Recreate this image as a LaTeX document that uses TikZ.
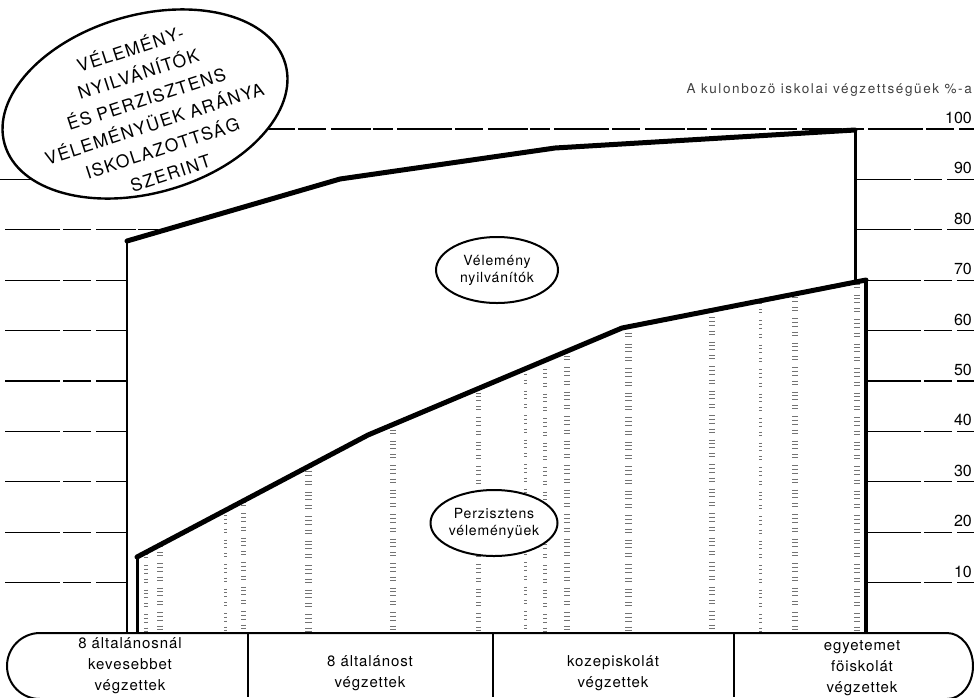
\documentclass[tikz,border=0pt]{standalone}
\usepackage{fontspec}
\setmainfont{TeX Gyre Heros}
\newfontfamily\titlefont[LetterSpace=8]{TeX Gyre Heros}
\newfontfamily\labfont[LetterSpace=6]{TeX Gyre Heros}
\newfontfamily\unitfont[LetterSpace=12]{TeX Gyre Heros}
\usetikzlibrary{shapes.geometric}
\begin{document}
\begin{tikzpicture}[x=1pt,y=-1pt,
  gridline/.style={line width=1.1pt, dash pattern=on 55pt off 3pt on 28pt off 5pt on 40pt off 2pt on 20pt off 4pt},
  bigline/.style={line width=5pt, line join=round, line cap=round},
  edge/.style={line width=2.6pt},
  stip/.style={draw=black!55, dash pattern=on 1pt off 3pt on 1.2pt off 5pt on 0.8pt off 2pt on 1pt off 7pt on 1pt off 2.5pt},
  oval/.style={draw, ellipse, line width=2pt, fill=white, inner sep=0pt},
  axlab/.style={anchor=south east, font=\fontsize{16}{16}\selectfont, inner sep=0pt},
  barlab/.style={align=center, font=\labfont\fontsize{15}{21}\selectfont, inner sep=0pt},
  ovallab/.style={align=center, font=\labfont\fontsize{14}{17}\selectfont, inner sep=0pt}]
\useasboundingbox (0,0) rectangle (974,697);

% key points
\coordinate (u0) at (127,241);
\coordinate (u1) at (340,179);
\coordinate (u2) at (555,148);
\coordinate (u3) at (855,130);
\coordinate (l0) at (137,557);
\coordinate (l1) at (368,435);
\coordinate (l2) at (622,328);
\coordinate (l3) at (866,280);
\coordinate (ur) at (855,280);
\coordinate (b0) at (127,633);
\coordinate (b1) at (137,633);
\coordinate (b3) at (866,633);

% stipple texture in the lower region
\begin{scope}
\clip (l0) -- (l1) -- (l2) -- (l3) -- (b3) -- (b1) -- cycle;
\foreach \x/\w/\s in {146/4/0,160/6/2,225/3/1,243/5/3,308/7/0,393/6/2,478/5/1,525/3/3,545/4/0,567/6/2,628/7/1,712/6/3,760/3/0,795/6/2,857/6/1}
  \draw[stip, line width=\w pt, dash phase=\s pt] (\x,250) -- (\x,633);
\end{scope}

% grid lines, left side
\foreach \v in {10,20,...,70}
  \draw[gridline] (5,{633-5.04*\v}) -- (127,{633-5.04*\v});
\draw[gridline] (5,229.8) -- (165,229.8);
\draw[gridline] (0,179.4) -- (80,179.4);
% top line
\draw[gridline] (240,129) -- (974,129);
% grid lines, right side
\draw[gridline] (856,179.4) -- (974,179.4);
\draw[gridline] (856,229.8) -- (974,229.8);
\foreach \v in {10,20,...,70}
  \draw[gridline] (866,{633-5.04*\v}) -- (974,{633-5.04*\v});

% axis labels
\foreach \v in {10,20,...,100}
  \node[axlab] (lab\v) at (972,{633-5.04*\v-5}) {\v};
\node[anchor=east, font=\unitfont\fontsize{13.5}{14}\selectfont, text=black!75, inner sep=0pt] (unit) at (972,90) {A kulonbozö iskolai végzettségüek \%-a};

% chart outlines
\draw[edge] (b0) -- (u0);
\draw[bigline] (u0) -- (u1) -- (u2) -- (u3);
\draw[line width=3pt] (u3) -- (ur);
\draw[line width=3pt] (b1) -- (l0);
\draw[bigline] (l0) -- (l1) -- (l2) -- (l3);
\draw[line width=4pt] (l3) -- (b3);

% inner ovals
\node[oval, minimum width=122pt, minimum height=66pt] (vel) at (497,270) {};
\node[ovallab] (veltext) at (vel.center) {Vélemény\\nyilvánítók};
\node[oval, minimum width=127pt, minimum height=66pt] (per) at (494,523) {};
\node[ovallab] (pertext) at (per.center) {Perzisztens\\véleményüek};

% title oval
\node[oval, line width=2.4pt, minimum width=292pt, minimum height=178pt, rotate=16] (title) at (145,104) {};
\node[rotate=18, align=center, inner sep=0pt, font=\titlefont\fontsize{17.5}{26}\selectfont] (titletext) at (150,110)
  {VÉLEMÉNY-\\NYILVÁNÍTÓK\\ÉS PERZISZTENS\\VÉLEMÉNYÜEK ARÁNYA\\ISKOLAZOTTSÁG\\SZERINT};

% bottom bar
\draw[line width=2pt] (40,699) arc[start angle=270, end angle=90, x radius=33pt, y radius=33pt]
  -- (947,633) arc[start angle=90, end angle=-90, x radius=26pt, y radius=33pt];
\foreach \x in {248,493,734}
  \draw[line width=2pt] (\x,633) -- (\x,697);
\node[barlab] (c1) at (130,666) {8 általánosnál\\kevesebbet\\végzettek};
\node[barlab] (c2) at (370,673) {8 általánost\\végzettek};
\node[barlab] (c3) at (613,673) {kozepiskolát\\végzettek};
\node[barlab] (c4) at (862,668) {egyetemet\\föiskolát\\végzettek};
\end{tikzpicture}
\end{document}
